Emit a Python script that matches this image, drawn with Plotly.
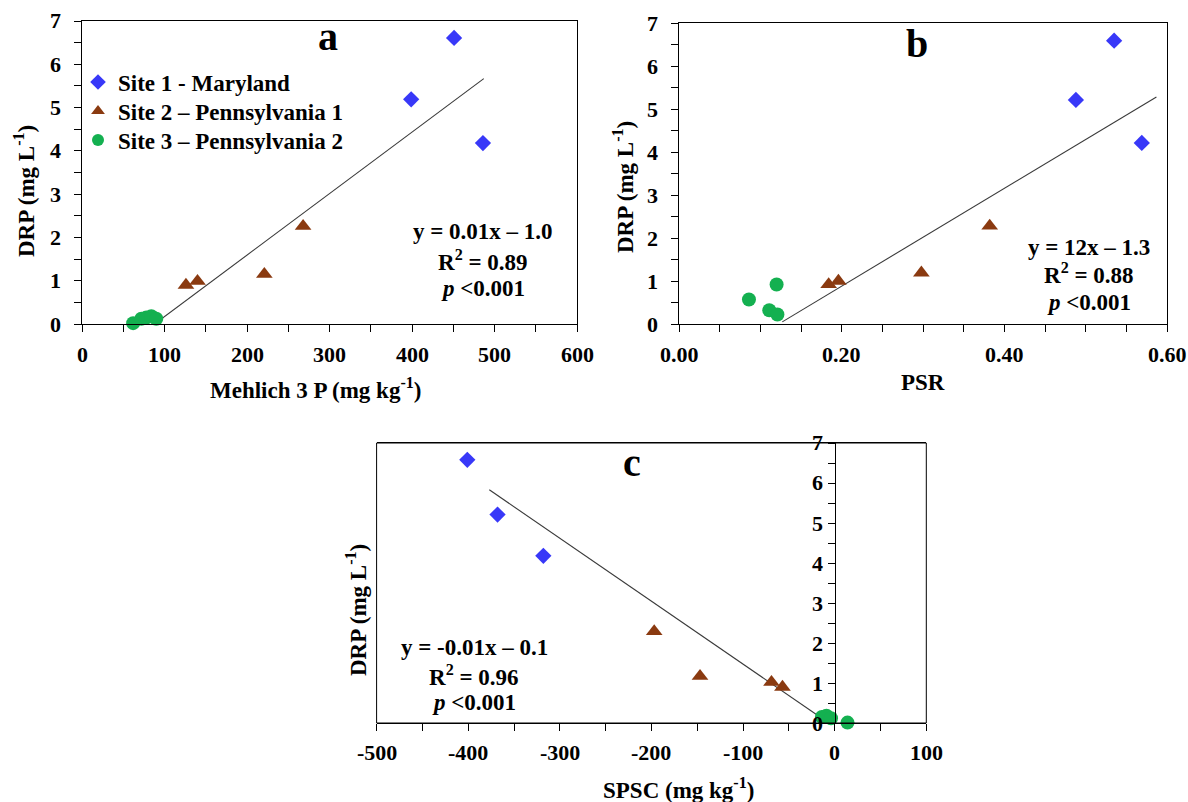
import plotly.graph_objects as go

W, H = 1188, 802

# ---------------- data ----------------
series_names = ["Site 1 - Maryland", "Site 2 \u2013 Pennsylvania 1", "Site 3 \u2013 Pennsylvania 2"]

# Panel a: Mehlich 3 P vs DRP
a_s1_x = [451, 399, 486]
a_s1_y = [6.61, 5.19, 4.18]
a_s2_x = [126, 140, 221, 268]
a_s2_y = [0.90, 0.99, 1.15, 2.26]
a_s3_x = [62, 72, 78, 84, 90]
a_s3_y = [0.02, 0.12, 0.15, 0.18, 0.12]
a_trend_x = [88, 487]
a_trend_y = [0.0, 5.67]

# Panel b: PSR vs DRP
b_s1_x = [0.535, 0.488, 0.569]
b_s1_y = [6.59, 5.21, 4.21]
b_s2_x = [0.184, 0.196, 0.298, 0.382]
b_s2_y = [0.92, 1.00, 1.19, 2.28]
b_s3_x = [0.086, 0.111, 0.120, 0.121]
b_s3_y = [0.57, 0.32, 0.92, 0.22]
b_trend_x = [0.127, 0.587]
b_trend_y = [0.05, 5.28]

# Panel c: SPSC vs DRP
c_s1_x = [-401, -368, -318]
c_s1_y = [6.58, 5.21, 4.18]
c_s2_x = [-197, -147, -69, -57]
c_s2_y = [2.29, 1.17, 1.02, 0.90]
c_s3_x = [-14, -9, -4, 14]
c_s3_y = [0.15, 0.18, 0.12, 0.01]
c_trend_x = [-377, -16]
c_trend_y = [5.83, 0.15]

equations = {
    "a": ["y = 0.01x \u2013 1.0", "R<sup>2</sup> = 0.89", "<i>p</i> &lt;0.001"],
    "b": ["y = 12x \u2013 1.3", "R<sup>2</sup> = 0.88", "<i>p</i> &lt;0.001"],
    "c": ["y = -0.01x \u2013 0.1", "R<sup>2</sup> = 0.96", "<i>p</i> &lt;0.001"],
}

# tick marks (major + minor)
a_xticks = [0, 50, 100, 150, 200, 250, 300, 350, 400, 450, 500, 550, 600]
b_xticks = [0.0, 0.05, 0.1, 0.15, 0.2, 0.25, 0.3, 0.35, 0.4, 0.45, 0.5, 0.55, 0.6]
c_xticks = [-500, -450, -400, -350, -300, -250, -200, -150, -100, -50, 0, 50, 100]
y_ticks = [0, 0.5, 1, 1.5, 2, 2.5, 3, 3.5, 4, 4.5, 5, 5.5, 6, 6.5, 7]

# tick labels
a_xlabel_vals = [0, 100, 200, 300, 400, 500, 600]
a_xlabels = ["0", "100", "200", "300", "400", "500", "600"]
b_xlabel_vals = [0.0, 0.2, 0.4, 0.6]
b_xlabels = ["0.00", "0.20", "0.40", "0.60"]
c_xlabel_vals = [-500, -400, -300, -200, -100, 0, 100]
c_xlabels = ["-500", "-400", "-300", "-200", "-100", "0", "100"]
y_label_vals = [0, 1, 2, 3, 4, 5, 6, 7]
y_labels = ["0", "1", "2", "3", "4", "5", "6", "7"]

# ---------------- styling ----------------
FONT = "Liberation Serif"
BLUE = "#3838F8"
BROWN = "#8A3A10"
GREEN = "#14B050"
LINE = "#3a3a3a"
symbols = ["diamond", "triangle-up", "circle"]
colors = [BLUE, BROWN, GREEN]
sizes = [12.5, 14.5, 14]
legend_ids = ["legend", "legend2", "legend3"]
TICK_SIZE = 22


def px(x):
    return x / W


def py(y):
    return 1 - y / H


fig = go.Figure()

panels = [
    ("x", "y", [(a_s1_x, a_s1_y), (a_s2_x, a_s2_y), (a_s3_x, a_s3_y)], (a_trend_x, a_trend_y)),
    ("x2", "y2", [(b_s1_x, b_s1_y), (b_s2_x, b_s2_y), (b_s3_x, b_s3_y)], (b_trend_x, b_trend_y)),
    ("x3", "y3", [(c_s1_x, c_s1_y), (c_s2_x, c_s2_y), (c_s3_x, c_s3_y)], (c_trend_x, c_trend_y)),
]

for pi, (xa, ya, pts, trend) in enumerate(panels):
    fig.add_trace(go.Scatter(x=trend[0], y=trend[1], mode="lines", xaxis=xa, yaxis=ya,
                             line=dict(color=LINE, width=1.1), showlegend=False, hoverinfo="skip"))
    for si, (xs, ys) in enumerate(pts):
        fig.add_trace(go.Scatter(
            x=xs, y=ys, mode="markers", xaxis=xa, yaxis=ya,
            name=series_names[si], showlegend=(pi == 0), legend=legend_ids[si],
            marker=dict(symbol=symbols[si], color=colors[si], size=sizes[si], line=dict(width=0)),
            cliponaxis=False))


def axis(**kw):
    d = dict(showgrid=False, zeroline=False, showline=True, linecolor="black", linewidth=1,
             ticks="outside", ticklen=7, tickwidth=1, tickcolor="black", automargin=False,
             tickmode="array", showticklabels=False)
    d.update(kw)
    return d


dom_a_x = [px(82), px(577)]
dom_b_x = [px(679), px(1167)]
dom_c_x = [px(376.6), px(926.3)]
dom_ab_y = [py(324), py(21)]
dom_b_y = [py(324), py(23)]
dom_c_y = [py(723), py(443)]

leg_font = dict(family=FONT, size=23, color="black", weight="bold")
legend_rows = [82, 111, 140]

fig.update_layout(
    font=dict(family=FONT, size=21, color="black"),
    xaxis=axis(domain=dom_a_x, range=[0, 600], anchor="y", tickvals=a_xticks, mirror=True),
    yaxis=axis(domain=dom_ab_y, range=[0, 7], anchor="x", tickvals=y_ticks, mirror=True),
    xaxis2=axis(domain=dom_b_x, range=[0, 0.6], anchor="y2", tickvals=b_xticks, mirror=True),
    yaxis2=axis(domain=dom_b_y, range=[0, 7], anchor="x2", tickvals=y_ticks, mirror=True),
    xaxis3=axis(domain=dom_c_x, range=[-500, 100], anchor="y3", tickvals=c_xticks, mirror=True),
    yaxis3=axis(domain=dom_c_y, range=[0, 7], anchor="free",
                position=dom_c_x[0] + (dom_c_x[1] - dom_c_x[0]) * (500 / 600), tickvals=y_ticks),
    width=W, height=H, margin=dict(l=0, r=0, t=0, b=0, autoexpand=False),
    paper_bgcolor="white", plot_bgcolor="white",
    showlegend=True,
)
for lid, row in zip(legend_ids, legend_rows):
    fig.update_layout({lid: dict(x=px(78), y=py(row), xanchor="left", yanchor="middle",
                                 bgcolor="rgba(0,0,0,0)", font=leg_font, itemsizing="constant")})

# frame of panel c
fig.add_shape(type="rect", xref="x3 domain", yref="y3 domain", x0=0, x1=1, y0=0, y1=1,
              line=dict(color="black", width=1), fillcolor="rgba(0,0,0,0)")

ann = []


def text(x, y, s, size=23, angle=0, xanchor="center"):
    ann.append(dict(x=px(x), y=py(y), xref="paper", yref="paper", text=s, showarrow=False,
                    textangle=angle, xanchor=xanchor, yanchor="middle",
                    font=dict(family=FONT, size=size, color="black", weight="bold")))


def tick_font():
    return dict(family=FONT, size=TICK_SIZE, color="black", weight="bold")


def xlabels(xref, yref, vals, labels, yshift=-31):
    for v, t in zip(vals, labels):
        ann.append(dict(x=v, xref=xref, y=0, yref=yref, text=f"<b>{t}</b>", showarrow=False,
                        xanchor="center", yanchor="middle", yshift=yshift, font=tick_font()))


def ylabels(xref, xval, yref, vals, labels, xshift=-19):
    for v, t in zip(vals, labels):
        ann.append(dict(x=xval, xref=xref, y=v, yref=yref, text=f"<b>{t}</b>", showarrow=False,
                        xanchor="right", yanchor="middle", xshift=xshift, font=tick_font()))


xlabels("x", "y domain", a_xlabel_vals, a_xlabels)
ylabels("x domain", 0, "y", y_label_vals, y_labels)
xlabels("x2", "y2 domain", b_xlabel_vals, b_xlabels)
ylabels("x2 domain", 0, "y2", y_label_vals, y_labels)
xlabels("x3", "y3 domain", c_xlabel_vals, c_xlabels, yshift=-29)
ylabels("x3", 0, "y3", y_label_vals, y_labels, xshift=-10)

# panel letters
text(328, 37, "a", size=40)
text(917, 43, "b", size=40)
text(632, 462, "c", size=40)

# axis titles
text(315, 388, "Mehlich 3 P (mg kg<sup>-1</sup>)")
text(923, 382, "PSR")
text(678, 788, "SPSC (mg kg<sup>-1</sup>)")
text(24, 191, "DRP (mg L<sup>-1</sup>)", angle=-90)
text(624, 187, "DRP (mg L<sup>-1</sup>)", angle=-90)
text(356, 610, "DRP (mg L<sup>-1</sup>)", angle=-90)

# equations
for (cx, ys), key in [((483, [232, 260, 288]), "a"), ((1089, [247, 274, 302]), "b"),
                      ((474, [647, 675, 702]), "c")]:
    for yy, line in zip(ys, equations[key]):
        text(cx, yy, line)

fig.update_layout(annotations=ann)

fig.write_html("out.html")
